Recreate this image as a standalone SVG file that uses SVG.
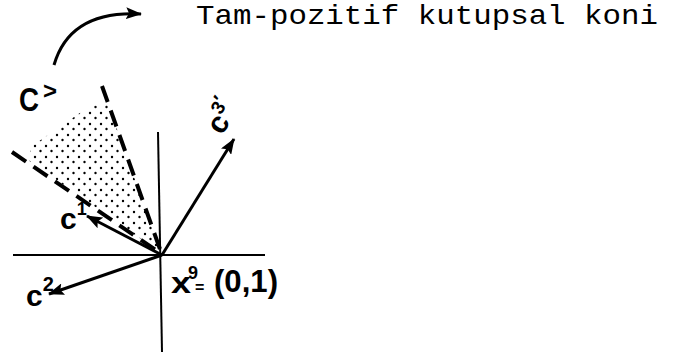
<svg xmlns="http://www.w3.org/2000/svg" width="680" height="359" viewBox="0 0 680 359">
<defs>
<marker id="ah" viewBox="0 0 16 12" refX="15" refY="6" markerWidth="16" markerHeight="12" markerUnits="userSpaceOnUse" orient="auto">
<path d="M0,0 L16,6 L0,12 L3,6 Z" fill="#000"/>
</marker>
<pattern id="dots" width="11" height="11" patternUnits="userSpaceOnUse">
<circle cx="2" cy="3" r="1.2" fill="#000"/>
<circle cx="7.5" cy="8" r="1.2" fill="#000"/>
</pattern>
<style>
.ax{stroke:#000;stroke-width:2;fill:none}
.vec{stroke:#000;stroke-width:3;fill:none;marker-end:url(#ah)}
.dash{stroke:#000;stroke-width:4;fill:none;stroke-dasharray:17 9}
.lbl{font-family:"Liberation Sans",Arial,sans-serif;font-weight:bold;fill:#000}
.mono{font-family:"Liberation Mono","Courier New",monospace;fill:#000}
</style>
</defs>
<rect width="680" height="359" fill="#fff"/>
<text class="mono" x="196" y="24" font-size="28" textLength="462" lengthAdjust="spacingAndGlyphs">Tam-pozitif kutupsal koni</text>
<g id="cone-region">
<polygon points="161,253 28,160 32,146 90,106 108,104" fill="url(#dots)"/>
</g>
<g id="connectors">
<path class="ax" d="M13,255 L265,255"/>
<path class="ax" d="M158,132 L162,352"/>
<path class="dash" d="M102,86 L161,252"/>
<path class="dash" d="M12,152 L160,253"/>
<path class="vec" d="M162,255 L234,139"/>
<path class="vec" d="M162,255 L87,216"/>
<path class="vec" d="M162,255 L49,294"/>
<path class="vec" d="M54,65 Q70,10 141,14"/>
</g>
<g id="label-cgt">
<text class="lbl" x="19" y="111" font-size="34" textLength="20" lengthAdjust="spacingAndGlyphs">C</text>
<text class="lbl" x="43" y="99" font-size="24">&gt;</text>
</g>
<g id="label-c3">
<text class="lbl" font-size="30" transform="translate(222,136) rotate(-58)">c<tspan font-size="19" dy="-12">3</tspan><tspan font-size="19" dy="-3">′</tspan></text>
</g>
<g id="label-c1">
<text class="lbl" x="60" y="229" font-size="30">c<tspan font-size="18" dy="-14">1</tspan></text>
</g>
<g id="label-c2">
<text class="lbl" x="26" y="306" font-size="30">c<tspan font-size="20" dy="-15">2</tspan></text>
</g>
<g id="label-x9">
<text class="lbl" x="171" y="293" font-size="30" textLength="20" lengthAdjust="spacingAndGlyphs">x</text>
<text class="lbl" x="188" y="279" font-size="18">9</text>
<text class="lbl" x="195" y="293" font-size="16">=</text>
<text class="lbl" x="214" y="292" font-size="31" textLength="64" lengthAdjust="spacingAndGlyphs">(0,1)</text>
</g>
</svg>
